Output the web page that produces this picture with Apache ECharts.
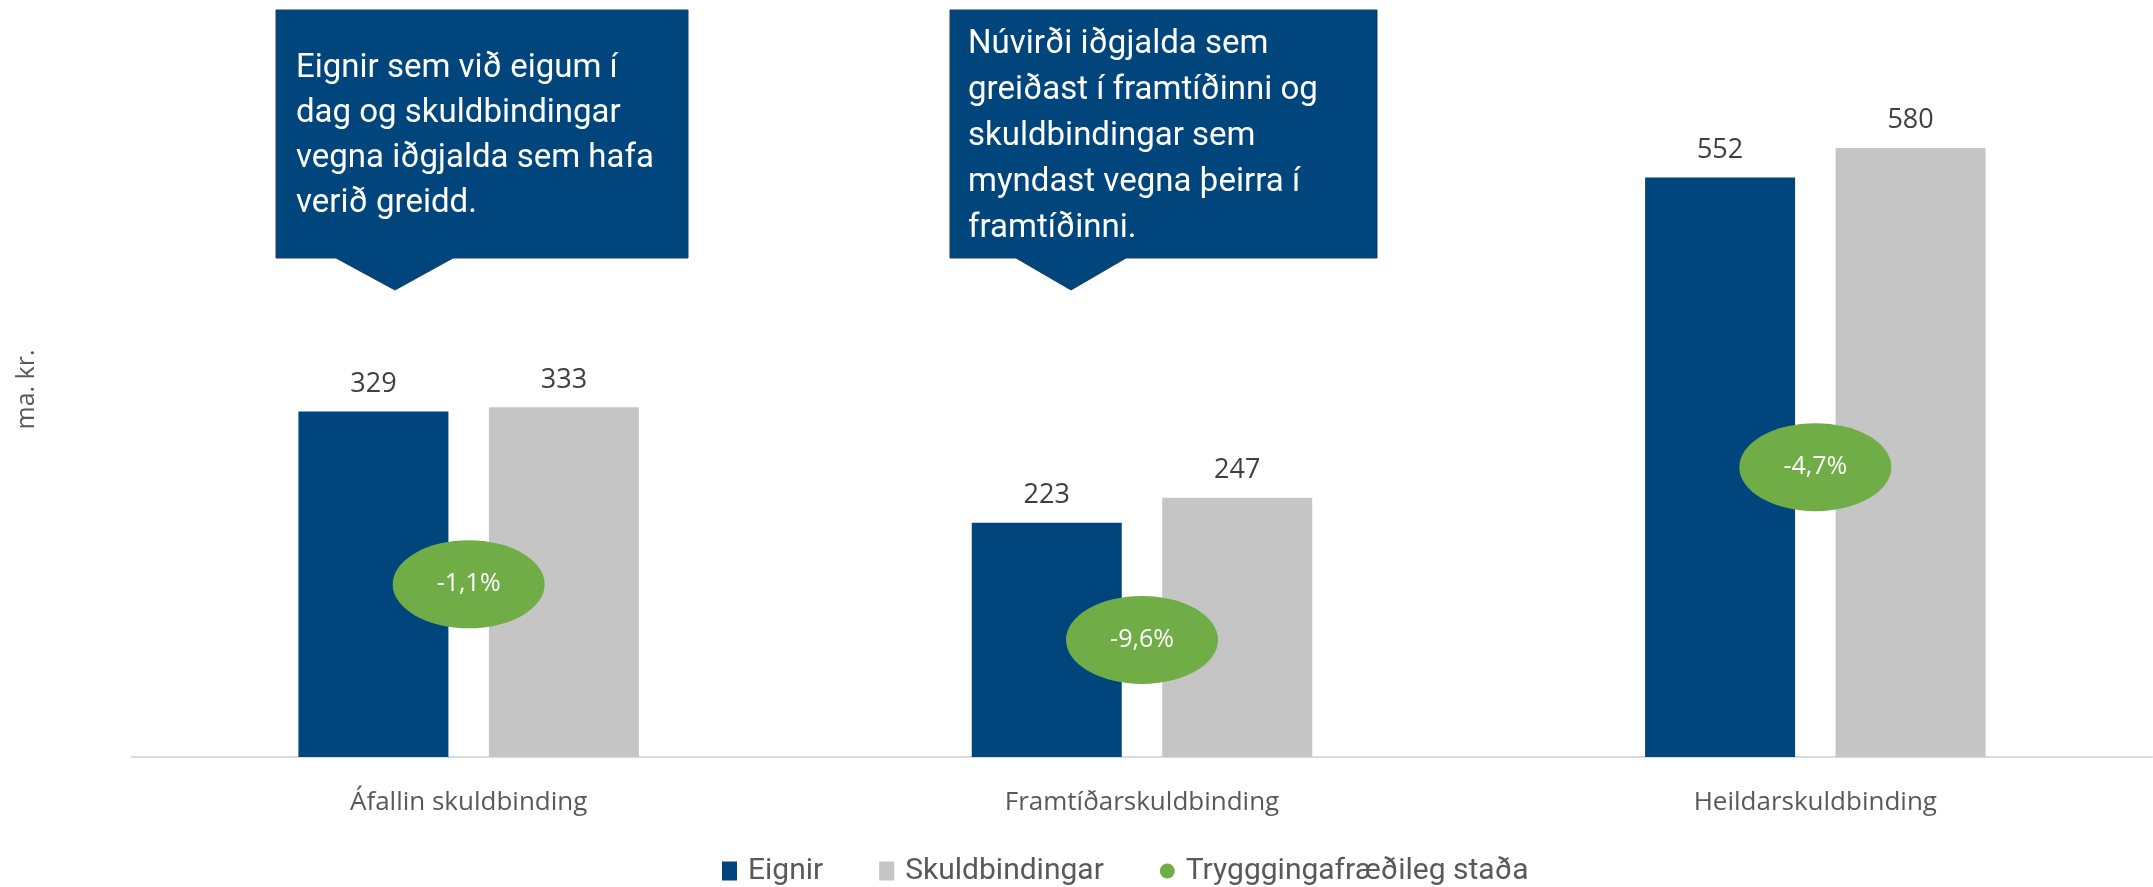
<!DOCTYPE html>
<html>
<head>
<meta charset="utf-8">
<script src="https://cdn.jsdelivr.net/npm/echarts@6/dist/echarts.min.js"></script>
<style>
html,body{margin:0;padding:0;background:#fff;}
#c{width:2153px;height:887px;}
</style>
</head>
<body>
<div id="c"></div>
<script>
const categories = ['Áfallin skuldbinding', 'Framtíðarskuldbinding', 'Heildarskuldbinding'];
const eignir = [329, 223, 552];
const skuldbindingar = [333, 247, 580];
const stada = [-1.1, -9.6, -4.7];
const seriesNames = ['Eignir', 'Skuldbindingar', 'Trygggingafræðileg staða'];
const callout1 = 'Eignir sem við eigum í\ndag og skuldbindingar\nvegna iðgjalda sem hafa\nverið greidd.';
const callout2 = 'Núvirði iðgjalda sem\ngreiðast í framtíðinni og\nskuldbindingar sem\nmyndast vegna þeirra í\nframtíðinni.';

const chart = echarts.init(document.getElementById('c'));
const blue = '#00457C', gray = '#C5C5C5', green = '#70AD47';

chart.setOption({
  animation: false,
  backgroundColor: '#ffffff',
  grid: { left: 132, right: 1, top: 22, bottom: 130 },
  legend: {
    top: 851,
    left: 717,
    itemGap: 56,
    itemWidth: 15,
    itemHeight: 19,
    textStyle: { fontFamily: 'Roboto', fontSize: 30, color: '#595959', padding: [0, 0, 0, 6] },
    data: [
      { name: seriesNames[0], icon: 'rect' },
      { name: seriesNames[1], icon: 'rect' },
      { name: seriesNames[2], icon: 'circle' }
    ]
  },
  xAxis: {
    type: 'category',
    data: categories,
    axisLine: { lineStyle: { color: '#D9D9D9', width: 2 } },
    axisTick: { show: false },
    axisLabel: { fontFamily: 'Open Sans', fontSize: 26, color: '#595959', margin: 33 }
  },
  yAxis: {
    type: 'value',
    min: 0, max: 700, interval: 100,
    name: 'ma. kr.',
    nameLocation: 'middle',
    nameGap: 93,
    nameRotate: 90,
    nameTextStyle: { fontFamily: 'Open Sans', fontSize: 25, color: '#595959' },
    axisLine: { show: false },
    axisTick: { show: false },
    axisLabel: { show: false },
    splitLine: { show: false }
  },
  series: [
    {
      name: seriesNames[0], type: 'bar', data: eignir,
      barWidth: 150, barGap: '27%',
      itemStyle: { color: blue },
      label: { show: true, position: 'top', distance: 14, fontFamily: 'Open Sans', fontSize: 27, color: '#404040' }
    },
    {
      name: seriesNames[1], type: 'bar', data: skuldbindingar,
      barWidth: 150, barGap: '27%',
      itemStyle: { color: gray },
      label: { show: true, position: 'top', distance: 14, fontFamily: 'Open Sans', fontSize: 27, color: '#404040' }
    },
    {
      name: seriesNames[2], type: 'scatter', z: 5,
      data: categories.map((c, i) => [i, eignir[i] / 2, stada[i]]),
      symbol: 'circle',
      symbolSize: [152, 88],
      itemStyle: { color: green, opacity: 1 },
      label: {
        show: true, position: 'inside',
        fontFamily: 'Open Sans', fontSize: 25, color: '#ffffff',
        formatter: p => String(p.value[2]).replace('.', ',') + '%'
      }
    }
  ],
  graphic: [
    {
      type: 'polygon', z: 10,
      shape: { points: [[276,10],[688,10],[688,258],[453,258],[395,290],[336,258],[276,258]] },
      style: { fill: blue, stroke: '#1d3b5e', lineWidth: 1 }
    },
    {
      type: 'text', z: 11, left: 296, top: 46,
      style: { text: callout1, fill: '#ffffff', font: '33px Roboto', lineHeight: 45 }
    },
    {
      type: 'polygon', z: 10,
      shape: { points: [[950,10],[1377,10],[1377,258],[1126,258],[1071,290],[1016,258],[950,258]] },
      style: { fill: blue, stroke: '#1d3b5e', lineWidth: 1 }
    },
    {
      type: 'text', z: 11, left: 968, top: 22,
      style: { text: callout2, fill: '#ffffff', font: '33px Roboto', lineHeight: 46 }
    }
  ]
});
</script>
</body>
</html>
